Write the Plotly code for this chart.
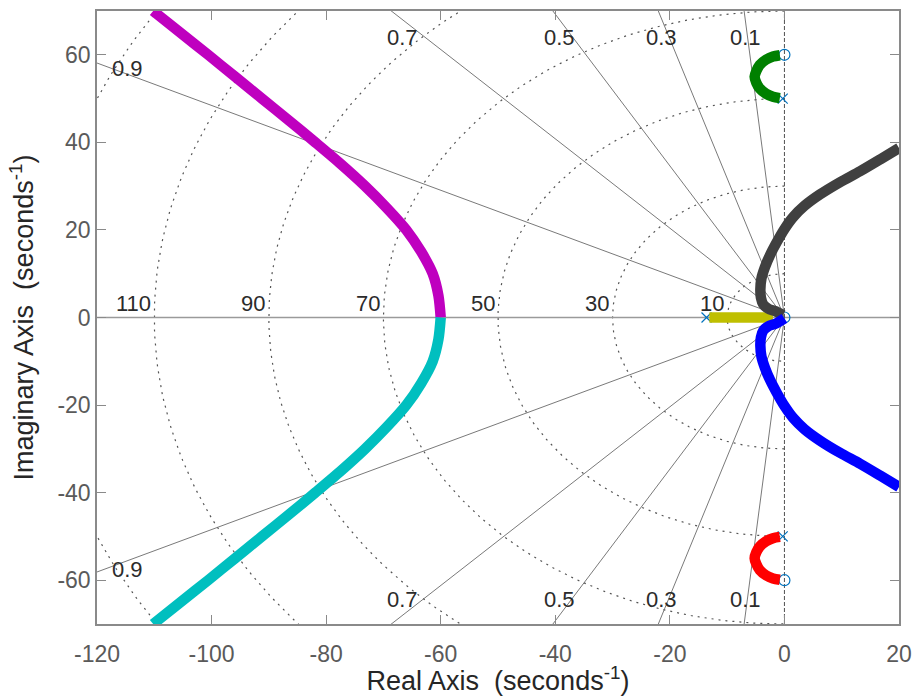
import numpy as np
import plotly.graph_objects as go

# ---- root-locus branches (real part, imaginary part) ----
magenta_x = [-60.0, -60.4, -61.4, -63.4, -66.0, -69.4, -73.2, -77.4, -81.9, -86.5, -91.2, -95.9, -100.6, -105.4, -110.2]
magenta_y = [0.0, 5.0, 10.0, 15.0, 20.0, 25.0, 30.0, 35.0, 40.0, 45.0, 50.0, 55.0, 60.0, 65.0, 70.0]

cyan_x = [-60.0, -60.4, -61.4, -63.4, -66.0, -69.4, -73.2, -77.4, -81.9, -86.5, -91.2, -95.9, -100.6, -105.4, -110.2]
cyan_y = [0.0, -5.0, -10.0, -15.0, -20.0, -25.0, -30.0, -35.0, -40.0, -45.0, -50.0, -55.0, -60.0, -65.0, -70.0]

green_x = [-0.8, -2.0, -3.2, -4.3, -4.9, -5.2, -4.9, -4.3, -3.2, -2.0, -0.8]
green_y = [59.9, 59.6, 58.9, 57.7, 56.3, 55.0, 53.6, 52.3, 51.1, 50.4, 50.1]

red_x = [-0.8, -2.0, -3.2, -4.3, -4.9, -5.2, -4.9, -4.3, -3.2, -2.0, -0.8]
red_y = [-50.1, -50.4, -51.1, -52.3, -53.6, -55.0, -56.3, -57.7, -58.9, -59.6, -59.9]

olive_x = [-13.1, -8.0, -2.0]
olive_y = [0.0, 0.0, 0.0]

black_x = [-0.3, -1.5, -2.8, -3.7, -4.1, -4.2, -4.0, -3.4, -2.5, -1.3, 0.0, 1.5, 3.5, 6.2, 9.7, 13.2, 16.7, 20.0]
black_y = [0.5, 1.4, 2.0, 3.0, 4.5, 6.5, 9.0, 11.5, 14.3, 17.3, 20.2, 22.9, 25.5, 28.1, 30.9, 33.4, 36.1, 38.7]

blue_x = [0.0, -1.5, -2.8, -3.7, -4.1, -4.2, -4.0, -3.4, -2.5, -1.3, 0.0, 1.5, 3.5, 6.2, 9.7, 13.2, 16.7, 20.0]
blue_y = [-0.2, -1.4, -2.0, -3.0, -4.5, -6.5, -9.0, -11.5, -14.3, -17.3, -20.2, -22.9, -25.5, -28.1, -30.9, -33.4, -36.1, -38.7]

# open-loop poles and zeros
pole_x = [-0.3, -0.3, -13.6]
pole_y = [50.0, -50.0, 0.0]
zero_x = [0.0, 0.0, 0.0]
zero_y = [60.0, -60.0, 0.0]

# s-plane grid values
zeta_vals = [0.1, 0.3, 0.5, 0.7, 0.9]
wn_vals = [10, 30, 50, 70, 90, 110, 130]
wn_labels = [10, 30, 50, 70, 90, 110]

# axis ticks
x_ticks = [-120, -100, -80, -60, -40, -20, 0, 20]
y_ticks = [-60, -40, -20, 0, 20, 40, 60]

FONT = "Liberation Sans, Arial, Helvetica, sans-serif"
MARK_BLUE = "#0072bd"

fig = go.Figure()

# natural-frequency semicircles (left half plane)
theta = np.linspace(np.pi / 2, 3 * np.pi / 2, 241)
cx, cy = [], []
for wn in wn_vals:
    cx += list(wn * np.cos(theta)) + [None]
    cy += list(wn * np.sin(theta)) + [None]
fig.add_trace(go.Scatter(x=cx, y=cy, mode="lines", hoverinfo="skip",
                         line=dict(color="#555555", width=1.2, dash="2px,5px")))

# constant damping rays
R = 400.0
zx, zy = [], []
for z in zeta_vals:
    s = np.sqrt(1 - z * z)
    zx += [0, -R * z, None, 0, -R * z, None]
    zy += [0, R * s, None, 0, -R * s, None]
fig.add_trace(go.Scatter(x=zx, y=zy, mode="lines", hoverinfo="skip",
                         line=dict(color="#6a6a6a", width=0.9)))

# real axis and imaginary axis
fig.add_trace(go.Scatter(x=[-120, 20], y=[0, 0], mode="lines", hoverinfo="skip",
                         line=dict(color="#9a9a9a", width=1.6)))
fig.add_trace(go.Scatter(x=[0, 0], y=[-70, 70], mode="lines", hoverinfo="skip",
                         line=dict(color="#505050", width=1, dash="4px,2px")))

# poles and zeros
fig.add_trace(go.Scatter(x=pole_x, y=pole_y, mode="markers", hoverinfo="skip",
                         marker=dict(symbol="x-thin-open", size=10, color=MARK_BLUE,
                                     line=dict(color=MARK_BLUE, width=1.2))))
fig.add_trace(go.Scatter(x=zero_x, y=zero_y, mode="markers", hoverinfo="skip",
                         marker=dict(symbol="circle-open", size=11, color=MARK_BLUE,
                                     line=dict(color=MARK_BLUE, width=1.2))))

# locus branches
branches = [
    (magenta_x, magenta_y, "#bf00bf"),
    (cyan_x, cyan_y, "#00bfbf"),
    (green_x, green_y, "#008000"),
    (red_x, red_y, "#ff0000"),
    (olive_x, olive_y, "#bfbf00"),
    (black_x, black_y, "#404040"),
    (blue_x, blue_y, "#0000ff"),
]
for bx, by, col in branches:
    fig.add_trace(go.Scatter(x=bx, y=by, mode="lines", hoverinfo="skip",
                             line=dict(color=col, width=10.5, shape="spline", smoothing=0.8)))

# damping labels along top and bottom edges
for z in zeta_vals[:4]:
    s = np.sqrt(1 - z * z)
    lx = -68.0 * z / s
    for ly in (64.0, -64.4):
        fig.add_annotation(x=lx, y=ly, text=f"{z:g}", showarrow=False,
                           xanchor="center", yanchor="middle",
                           font=dict(family=FONT, size=22, color="#2b2b2b"))
for ly in (56.8, -57.5):
    fig.add_annotation(x=-114.7, y=ly, text="0.9", showarrow=False,
                       xanchor="center", yanchor="middle",
                       font=dict(family=FONT, size=22, color="#2b2b2b"))

# natural-frequency labels along the real axis
for wn in wn_labels:
    fig.add_annotation(x=-wn, y=3.2, text=str(wn), showarrow=False,
                       xanchor="right", yanchor="middle", xshift=-1.5,
                       font=dict(family=FONT, size=22, color="#2b2b2b"))

axis_common = dict(
    showgrid=False, zeroline=False, showline=True, linecolor="#8a8a8a", linewidth=1.5,
    mirror="ticks", ticks="inside", ticklen=9, tickwidth=1.3, tickcolor="#8a8a8a",
    tickfont=dict(family=FONT, size=23, color="#5a5a5a"),
)

fig.update_layout(
    width=913, height=696,
    margin=dict(l=97, r=14, t=11, b=72, autoexpand=False),
    plot_bgcolor="white", paper_bgcolor="white",
    showlegend=False,
    xaxis=dict(range=[-120, 20], tickvals=x_ticks, ticktext=[str(v) for v in x_ticks],
               ticklabelstandoff=9,
               title=dict(text="Real Axis\u00a0\u00a0(seconds<sup>-1</sup>)", standoff=2,
                          font=dict(family=FONT, size=27, color="#262626")),
               **axis_common),
    yaxis=dict(range=[-70, 70], tickvals=y_ticks, ticktext=[str(v) for v in y_ticks],
               title=dict(text="Imaginary Axis\u00a0\u00a0(seconds<sup>-1</sup>)", standoff=16,
                          font=dict(family=FONT, size=27, color="#262626")),
               **axis_common),
)

fig.write_html("out.html")
